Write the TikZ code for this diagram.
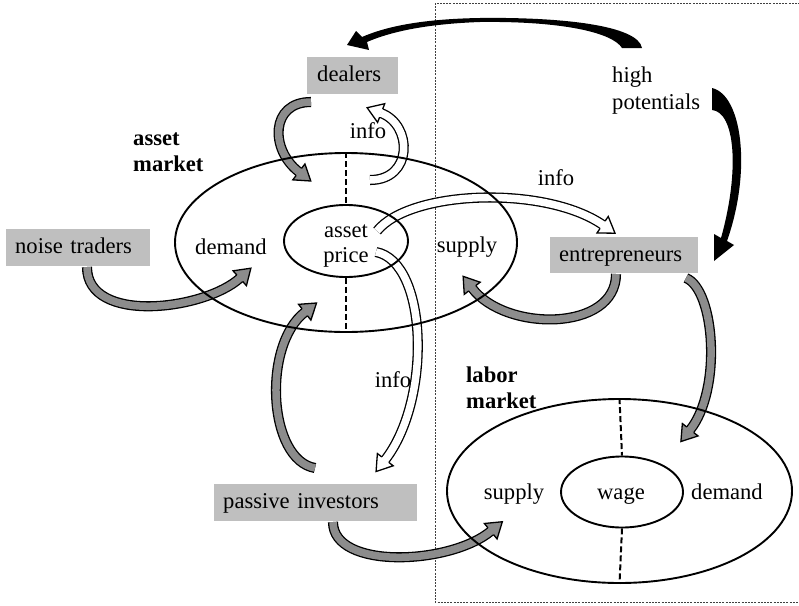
\documentclass[tikz,border=0pt]{standalone}
\usepackage{fontspec}
\setmainfont{Liberation Serif}
\usetikzlibrary{shapes.geometric,decorations.markings}
\definecolor{boxgray}{HTML}{BFBFBF}
\definecolor{arrgray}{HTML}{8C8C8C}
\newcommand\blockarrow[2]{%
  \draw[line width=1.3pt, double=#1, double distance=7.5pt] #2;
  \path[decorate, decoration={markings, mark=at position 0.998 with {%
    \filldraw[fill=#1, line width=1.3pt, line join=miter]
      (0pt,4.4pt) -- (0pt,10pt) -- (15pt,0pt) -- (0pt,-10pt) -- (0pt,-4.4pt);}}] #2;
}
\begin{document}
\begin{tikzpicture}[x=1pt, y=-1pt, font=\fontsize{22.6}{26}\selectfont,
  lbl/.style={inner sep=0pt, anchor=base},
  blbl/.style={inner sep=0pt, anchor=base west, font=\fontsize{22.6}{26}\selectfont\bfseries},
  box/.style={fill=boxgray, inner sep=0pt, anchor=north west, text height=16pt, text depth=4pt, align=left},
  ell/.style={ellipse, draw, line width=1.9pt, inner sep=0pt},
  split/.style={dash pattern=on 6pt off 3pt, line width=2pt},
  frame/.style={draw=black!75, dash pattern=on 2pt off 1.2pt, line width=0.8pt}]
\useasboundingbox (0,0) rectangle (799,605);
% dotted frame
\draw[frame] (435,3) rectangle (801,602);
% boxes
\node[box, minimum width=91pt, minimum height=37pt, inner xsep=10pt, text width=71pt] (dealers) at (307,57) {dealers};
\node[box, minimum width=144pt, minimum height=37pt, inner xsep=9pt, text width=126pt] (noise) at (6,229) {noise traders};
\node[box, minimum width=148pt, minimum height=36pt, inner xsep=9pt, text width=130pt] (entre) at (550,237) {entrepreneurs};
\node[box, minimum width=203pt, minimum height=37pt, inner xsep=9pt, text width=185pt] (passive) at (214,484) {passive investors};
\path (346,242.5) coordinate (amc) (346,241) coordinate (apc) (619.5,491) coordinate (lmc) (622,492) coordinate (wgc);
% gray arrows
\blockarrow{arrgray}{(311,102) .. controls (270,102) and (270,150) .. (299,172)}
\blockarrow{arrgray}{(87,267) .. controls (87,325) and (205,310) .. (240,278)}
\blockarrow{arrgray}{(315,468) .. controls (268,460) and (262,345) .. (305,312)}
\blockarrow{arrgray}{(616,274) .. controls (616,332) and (505,332) .. (472,288)}
\blockarrow{arrgray}{(686,278) .. controls (715,290) and (722,390) .. (690,430)}
\blockarrow{arrgray}{(333,522) .. controls (333,570) and (450,565) .. (491,531)}
% white info arrows
\blockarrow{white}{(370,180) .. controls (413,180) and (413,125) .. (381,113)}
\blockarrow{white}{(376,252) .. controls (428,262) and (432,400) .. (385,460)}
\blockarrow{white}{(377,231) .. controls (410,190) and (545,185) .. (603,225)}
% black arrows from high potentials
\fill (642,48) .. controls (638,25) and (560,17) .. (480,18)
  .. controls (420,19) and (385,27) .. (362,37)
  -- (356,31) -- (347,45) -- (369,50) -- (367,42)
  .. controls (390,32) and (425,24) .. (480,22)
  .. controls (560,21) and (612,32) .. (622,48) -- cycle;
\fill (712,88) .. controls (742,95) and (752,170) .. (727,241)
  -- (734,245) -- (714,261) -- (714,234) -- (721,238)
  .. controls (740,170) and (735,112) .. (712,110) -- cycle;
% ellipses on top
\node[ell, minimum width=342pt, minimum height=179pt] (am) at (amc) {};
\node[ell, minimum width=124pt, minimum height=72pt] (ap) at (apc) {};
\node[ell, minimum width=345pt, minimum height=184pt] (lm) at (lmc) {};
\node[ell, minimum width=122pt, minimum height=71pt] (wg) at (wgc) {};
\draw[split] (am.north) -- (ap.north);
\draw[split] (ap.south) -- (am.south);
\draw[split] (lm.north) -- (wg.north);
\draw[split] (wg.south) -- (lm.south);
% labels
\node[blbl] (am1) at (133,145) {asset};
\node[blbl] (am2) at (133,171) {market};
\node[lbl] (ap1) at (346,237) {asset};
\node[lbl] (ap2) at (346,262) {price};
\node[lbl] (dem1) at (231,254) {demand};
\node[lbl] (sup1) at (467,252) {supply};
\node[lbl] (inf1) at (368,138) {info};
\node[lbl] (inf2) at (556,185) {info};
\node[lbl] (inf3) at (393,387) {info};
\node[inner sep=0pt, anchor=base west] (hp1) at (612,82) {high};
\node[inner sep=0pt, anchor=base west] (hp2) at (612,109) {potentials};
\node[blbl] (lm1) at (466,382) {labor};
\node[blbl] (lm2) at (466,408) {market};
\node[lbl] (sup2) at (514,499) {supply};
\node[lbl] (wage) at (621,499) {wage};
\node[lbl] (dem2) at (727,499) {demand};
\end{tikzpicture}
\end{document}
